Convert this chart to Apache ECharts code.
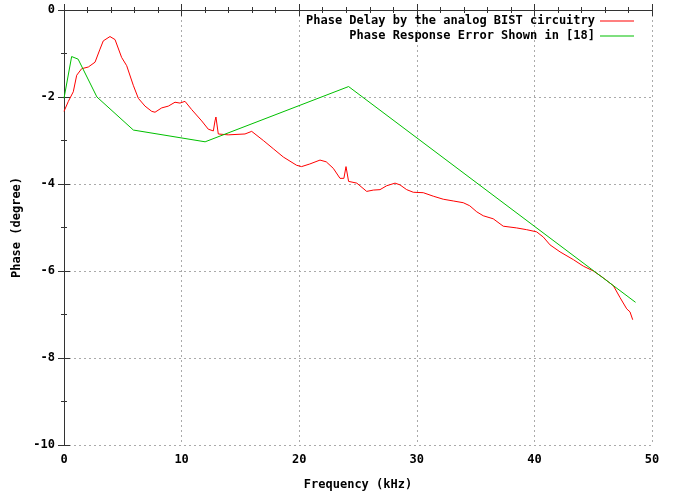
<!DOCTYPE html>
<html>
<head>
<meta charset="utf-8">
<script src="https://cdn.jsdelivr.net/npm/echarts@6/dist/echarts.min.js"></script>
<style>html,body{margin:0;padding:0;background:#fff}#c{width:679px;height:496px}</style>
</head>
<body>
<div id="c"></div>
<script>
var seriesNames = ['Phase Delay by the analog BIST circuitry', 'Phase Response Error Shown in [18]'];
var freqRed = [0,0.37,0.79,1.08,1.5,2.07,2.64,3.06,3.34,3.91,4.34,4.9,5.33,5.89,6.32,6.89,7.46,7.74,8.31,8.87,9.44,9.86,10.29,10.86,11.71,12.27,12.7,12.84,12.92,13.12,13.97,15.39,15.96,16.1,16.95,17.8,18.65,19.78,20.2,20.9,21.77,22.3,22.9,23.47,23.8,23.98,24.2,24.9,25.74,26.3,26.87,27.44,28.15,28.57,29.14,29.7,30.55,31.4,32.25,33.1,33.95,34.5,35.1,35.65,36.5,37.35,38.49,39.34,40.19,40.76,41.33,42.18,43.32,44.17,45.02,45.87,46.72,47.28,47.85,48.13,48.36];
var phaseRed = [-2.33,-2.1,-1.88,-1.5,-1.35,-1.31,-1.2,-0.9,-0.71,-0.61,-0.68,-1.09,-1.28,-1.73,-2.03,-2.21,-2.33,-2.35,-2.25,-2.21,-2.12,-2.14,-2.1,-2.29,-2.55,-2.74,-2.78,-2.55,-2.46,-2.85,-2.87,-2.85,-2.79,-2.8,-3.0,-3.19,-3.38,-3.57,-3.6,-3.54,-3.45,-3.49,-3.64,-3.87,-3.87,-3.6,-3.94,-3.98,-4.17,-4.14,-4.13,-4.04,-3.98,-4.02,-4.13,-4.19,-4.2,-4.28,-4.35,-4.39,-4.43,-4.5,-4.64,-4.73,-4.8,-4.97,-5.01,-5.05,-5.1,-5.22,-5.4,-5.56,-5.74,-5.89,-6.0,-6.16,-6.34,-6.61,-6.87,-6.94,-7.12];
var freqGreen = [0,0.65,1.2,2.8,5.9,12.0,24.2,48.6];
var phaseGreen = [-2.03,-1.07,-1.13,-2.0,-2.76,-3.03,-1.76,-6.72];
var xTicks = [0,10,20,30,40,50];
var yTicks = [-10,-8,-6,-4,-2,0];

function pairs(xs, ys){ return xs.map(function(x,i){ return [x, ys[i]]; }); }

var font = 'DejaVu Sans Mono';
var axisLine = {show: true, lineStyle: {color: '#333', width: 1}};
var axisTick = {show: true, inside: true, length: 6, lineStyle: {color: '#333'}};
var legendText = {fontFamily: font, fontWeight: 'bold', fontSize: 12, color: '#000'};
var chart = echarts.init(document.getElementById('c'), null, {renderer: 'canvas'});
chart.setOption({
  animation: false,
  backgroundColor: '#fff',
  grid: {left: 64, right: 27, top: 10, bottom: 42},
  legend: [
    {data: [seriesNames[0]], right: 45, top: 15, align: 'right', icon: 'rect', itemWidth: 34, itemHeight: 1,
     textStyle: legendText, padding: 0, itemGap: 0},
    {data: [seriesNames[1]], right: 45, top: 30, align: 'right', icon: 'rect', itemWidth: 34, itemHeight: 1,
     textStyle: legendText, padding: 0, itemGap: 0}
  ],
  xAxis: [
    {type: 'value', min: 0, max: 50, interval: 10,
     name: 'Frequency (kHz)', nameLocation: 'middle', nameGap: 34,
     nameTextStyle: {fontFamily: font, fontWeight: 'bold', fontSize: 12, color: '#000'},
     axisLabel: {fontFamily: font, fontWeight: 'bold', fontSize: 12, color: '#000', margin: 9},
     axisLine: axisLine, axisTick: axisTick,
     minorTick: {show: true, splitNumber: 5, length: 3, lineStyle: {color: '#333'}},
     splitLine: {show: true, lineStyle: {color: '#aaa', type: [2, 3], width: 1}}},
    {type: 'value', min: 0, max: 50, interval: 10, position: 'top',
     axisLine: axisLine, axisTick: axisTick,
     minorTick: {show: true, splitNumber: 5, length: 3, lineStyle: {color: '#333'}},
     axisLabel: {show: false}, splitLine: {show: false}}
  ],
  yAxis: [
    {type: 'value', min: -10, max: 0, interval: 2,
     name: 'Phase (degree)', nameLocation: 'middle', nameGap: 34,
     nameTextStyle: {fontFamily: font, fontWeight: 'bold', fontSize: 12, color: '#000'},
     axisLabel: {fontFamily: font, fontWeight: 'bold', fontSize: 12, color: '#000', margin: 9},
     axisLine: axisLine, axisTick: axisTick,
     minorTick: {show: true, splitNumber: 2, length: 3, lineStyle: {color: '#333'}},
     splitLine: {show: true, lineStyle: {color: '#aaa', type: [2, 3], width: 1}}},
    {type: 'value', min: -10, max: 0, interval: 2, position: 'right',
     axisLine: axisLine, axisTick: axisTick,
     minorTick: {show: true, splitNumber: 2, length: 3, lineStyle: {color: '#333'}},
     axisLabel: {show: false}, splitLine: {show: false}}
  ],
  series: [
    {name: seriesNames[0], type: 'line', data: pairs(freqRed, phaseRed), showSymbol: false, symbol: 'none',
     lineStyle: {color: '#ff0000', width: 1}, itemStyle: {color: '#ff0000'}},
    {name: seriesNames[1], type: 'line', data: pairs(freqGreen, phaseGreen), showSymbol: false, symbol: 'none',
     lineStyle: {color: '#00c000', width: 1}, itemStyle: {color: '#00c000'}}
  ]
});
</script>
</body>
</html>
